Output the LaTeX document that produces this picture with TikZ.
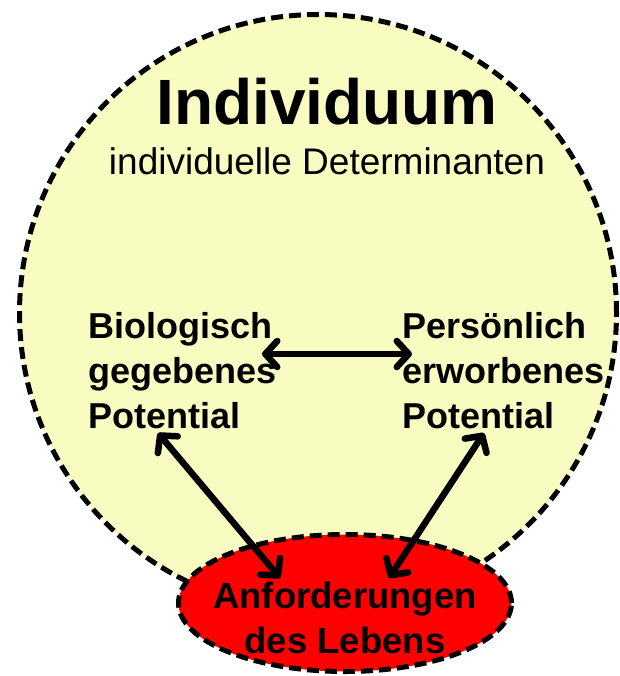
\documentclass[tikz,border=0pt]{standalone}
\usepackage{fontspec}
\setmainfont{Liberation Sans}
\usetikzlibrary{arrows.meta,shapes.geometric}
\definecolor{paleyellow}{RGB}{248,252,192}
\definecolor{lifered}{RGB}{255,0,0}
\tikzset{
  dashline/.style={draw=black,line width=5pt,dash pattern=on 12pt off 6pt},
  boldtext/.style={font=\bfseries\fontsize{36}{45}\selectfont,align=left,inner sep=0pt,anchor=north west},
  linkarrow/.style={line width=6.5pt,line cap=round,{Straight Barb[length=12pt,width=26pt,line cap=round,line join=round]}-{Straight Barb[length=12pt,width=26pt,line cap=round,line join=round]}}
}
\begin{document}
\begin{tikzpicture}[x=1pt,y=-1pt]
\useasboundingbox (0,0) rectangle (619,676);
\node[circle,minimum size=597pt,fill=paleyellow,dashline,inner sep=0pt] (indiv) at (318,313) {};
\node[ellipse,minimum width=333pt,minimum height=137pt,fill=lifered,dashline,inner sep=0pt] (life) at (345,603) {};
\node[font=\bfseries\fontsize{64}{70}\selectfont,inner sep=0pt,anchor=base] (title) at (327,125) {Individuum};
\node[font=\fontsize{37}{42}\selectfont,inner sep=0pt,anchor=base] (sub) at (327,175) {individuelle Determinanten};
\node[boldtext] (bio) at (88,312) {Biologisch\\gegebenes\\Potential};
\node[boldtext] (pers) at (402,312) {Persönlich\\erworbenes\\Potential};
\node[font=\bfseries\fontsize{36.5}{45}\selectfont,align=center,inner sep=0pt,anchor=north] (lifetext) at (345,582) {Anforderungen\\des Lebens};
\coordinate (hA) at (262,354);
\coordinate (hB) at (412,354);
\coordinate (lA) at (158,433);
\coordinate (lB) at (280,578);
\coordinate (rA) at (484,433);
\coordinate (rB) at (389,578);
\draw[linkarrow] (hA) -- (hB);
\draw[linkarrow] (lA) -- (lB);
\draw[linkarrow] (rA) -- (rB);
\end{tikzpicture}
\end{document}
